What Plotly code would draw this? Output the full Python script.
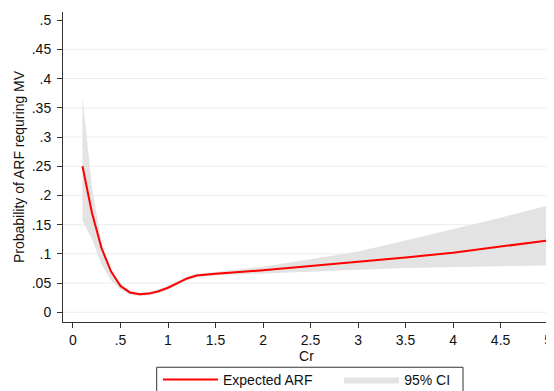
import plotly.graph_objects as go

# Data
cr = [0.1, 0.2, 0.3, 0.4, 0.5, 0.6, 0.7, 0.8, 0.9, 1.0, 1.1, 1.2, 1.3, 1.4, 1.5,
      2.0, 2.5, 3.0, 3.5, 4.0, 4.5, 5.0]
expected_arf = [0.250, 0.170, 0.110, 0.070, 0.045, 0.034, 0.031, 0.032, 0.036, 0.042,
                0.050, 0.058, 0.063, 0.065, 0.066, 0.072, 0.079, 0.087, 0.094, 0.102,
                0.112, 0.123]
ci_upper = [0.369, 0.214, 0.120, 0.072, 0.049, 0.037, 0.034, 0.035, 0.039, 0.045,
            0.053, 0.061, 0.066, 0.068, 0.069, 0.078, 0.091, 0.104, 0.123, 0.142,
            0.162, 0.183]
ci_lower = [0.157, 0.125, 0.082, 0.055, 0.039, 0.030, 0.028, 0.029, 0.033, 0.039,
            0.047, 0.055, 0.060, 0.062, 0.063, 0.067, 0.070, 0.073, 0.076, 0.078,
            0.079, 0.080]

x_ticks = [0, 0.5, 1, 1.5, 2, 2.5, 3, 3.5, 4, 4.5, 5]
x_tick_labels = ["0", ".5", "1", "1.5", "2", "2.5", "3", "3.5", "4", "4.5", "5"]
y_ticks = [0, 0.05, 0.1, 0.15, 0.2, 0.25, 0.3, 0.35, 0.4, 0.45, 0.5]
y_tick_labels = ["0", ".05", ".1", ".15", ".2", ".25", ".3", ".35", ".4", ".45", ".5"]

FONT = "Liberation Sans, Arial, Helvetica, sans-serif"
BAND = "#e3e3e3"
GRID = "#e6eff0"
AX = "#333333"

fig = go.Figure()
fig.add_trace(go.Scatter(
    x=cr + cr[::-1], y=ci_upper + ci_lower[::-1],
    mode="lines", line=dict(width=0, color=BAND), fill="toself", fillcolor=BAND,
    name="95% CI", legend="legend2", hoverinfo="skip"))
fig.add_trace(go.Scatter(
    x=cr, y=expected_arf, mode="lines",
    line=dict(color="#ff0000", width=2), name="Expected ARF", legend="legend"))

# gridlines at every y tick except the top one
for v in y_ticks[:-1]:
    fig.add_shape(type="line", xref="paper", x0=0, x1=1.02, yref="y", y0=v, y1=v,
                  line=dict(color=GRID, width=1), layer="below")

# legend frame
fig.add_shape(type="rect", xref="paper", yref="paper", x0=0.1924, x1=0.8214,
              y0=-0.146, y1=-0.26, line=dict(color=AX, width=1),
              fillcolor="rgba(0,0,0,0)", layer="above")

leg_common = dict(orientation="h", yanchor="top", y=-0.135, xanchor="left",
                  bgcolor="rgba(0,0,0,0)", borderwidth=0,
                  font=dict(size=14, family=FONT, color="#111111"), itemwidth=55)

fig.update_layout(
    width=546, height=383,
    margin=dict(l=55, r=4, t=4, b=69, autoexpand=False),
    paper_bgcolor="white", plot_bgcolor="white",
    font=dict(family=FONT, size=14, color="#111111"),
    showlegend=True,
    legend=dict(x=0.195, **leg_common),
    legend2=dict(x=0.567, **leg_common),
    xaxis=dict(range=[-0.105, 5.02], tickvals=x_ticks, ticktext=x_tick_labels,
               showgrid=False, zeroline=False, showline=True, linecolor=AX, linewidth=1,
               ticks="outside", ticklen=5, tickcolor=AX, automargin=False,
               title=dict(text="Cr", standoff=2, font=dict(size=14))),
    yaxis=dict(range=[-0.0166, 0.514], tickvals=y_ticks, ticktext=y_tick_labels,
               showgrid=False, zeroline=False, showline=True, linecolor=AX, linewidth=1,
               ticks="outside", ticklen=5, tickcolor=AX, automargin=False,
               ticklabelstandoff=3,
               title=dict(text="Probability of ARF requring MV", standoff=3,
                          font=dict(size=14))),
)

fig.write_html("out.html",
               post_script="document.documentElement.style.overflow='hidden';")
